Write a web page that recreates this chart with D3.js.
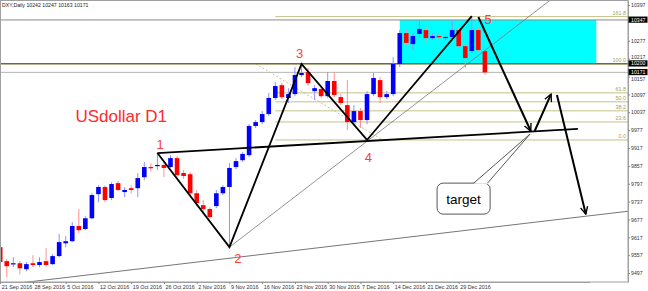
<!DOCTYPE html>
<html><head><meta charset="utf-8">
<script src="https://cdn.jsdelivr.net/npm/d3@7"></script>
<style>html,body{margin:0;padding:0;background:#fff;}svg{display:block;font-family:"Liberation Sans",Arial,sans-serif;}</style>
</head><body>
<svg id="c" width="648" height="291"></svg>
<script>
// ---------- DATA ----------
const headerText = "DXY,Daily  10242 10247 10163 10171";
const openP  = [9584,9537,9527,9530,9510,9530,9524,9537,9527,9554, 9597,9604,9655,9645,9681,9762,9786,9749,9799,9769,
                9782,9782,9819,9853,9856,9860,9853,9883,9833,9829, 9765,9725,9712,9722,9765,9786,9853,9876,9893,9991,
                10004,10031,10085,10128,10085,10098,10162,10172,10108,10115, 10091,10142,10088,10061,10004,10041,10011,10098,10145,10088,
                10098,10199,10303,10266,10300,10313,10286,10293,10286,10290, 10313,10259,10243,10313,10242];
const highP  = [9621,9544,9550,9537,9534,9557,9550,9581,9561,9628, 9621,9668,9712,9688,9765,9792,9792,9802,9806,9786,
                9792,9833,9870,9866,9900,9866,9893,9890,9843,9836, 9776,9742,9718,9776,9792,9866,9883,9903,9997,10011,
                10041,10102,10139,10135,10118,10189,10199,10186,10128,10125, 10172,10172,10098,10145,10061,10051,10108,10169,10155,10108,
                10222,10313,10313,10303,10347,10327,10303,10300,10296,10347, 10323,10266,10357,10320,10247];
const lowP   = [9527,9483,9517,9493,9503,9517,9517,9520,9524,9550, 9584,9601,9631,9641,9678,9735,9735,9742,9772,9752,
                9765,9752,9809,9839,9843,9819,9850,9819,9813,9759, 9722,9702,9681,9715,9759,9584,9846,9870,9886,9984,
                9997,10024,10078,10081,10068,10091,10155,10125,10078,10085, 10085,10088,10061,9977,9994,9984,9997,10091,10068,10081,
                10091,10189,10259,10246,10286,10270,10280,10283,10280,10283, 10253,10186,10236,10239,10163];
const closeP = [9534,9520,9530,9513,9527,9524,9534,9524,9554,9601, 9604,9655,9641,9681,9759,9786,9742,9796,9776,9776,
                9776,9816,9853,9850,9860,9850,9883,9826,9823,9765, 9732,9712,9685,9765,9786,9850,9873,9897,9991,10004,
                10031,10085,10125,10088,10098,10162,10169,10135,10118,10091, 10142,10095,10068,10004,10041,10011,10098,10152,10088,10098,
                10199,10303,10270,10293,10317,10286,10293,10290,10290,10313, 10259,10219,10313,10246,10171];

const dateIdx    = [0,5,10,15,20,25,30,35,40,45,50,55,60,65,70];
const dateLabels = ["21 Sep 2016","28 Sep 2016","5 Oct 2016","12 Oct 2016","19 Oct 2016","26 Oct 2016","2 Nov 2016",
                    "9 Nov 2016","16 Nov 2016","23 Nov 2016","30 Nov 2016","7 Dec 2016","14 Dec 2016","21 Dec 2016","29 Dec 2016"];
const priceTicks = [10397,10277,10217,10157,10097,10037,9977,9917,9857,9797,9737,9677,9617,9557,9497];
const markedPrices = [10347,10200,10171];

const fibZero = 9944, fibHundred = 10200;
const fibLevels = [0, 23.6, 38.2, 50, 61.8, 100, 161.8];
const fibLabels = ["0.0","23.6","38.2","50.0","61.8","100.0","161.8"];
const fibAnchorIdx = [39, 58.4];

const boxIdx = [61, 91];
const boxPrice = [10347, 10200];

const waveIdx   = [24, 35, 46, 56, 72];
const wavePrice = [9900, 9584, 10199, 9944, 10360];
const waveNames = ["1","2","3","4","5"];
const waveLabelIdx   = [24.4, 36.3, 45.7, 56.2, 74.5];
const waveLabelPrice = [9930, 9547, 10236, 9886, 10350];

const trendIdx = [24, 88.2], trendPrice = [9900, 9981];
const thinIdx  = [35, 84],   thinPrice  = [9584, 10414];
const baseIdx  = [0, 96],    basePrice  = [9456, 9705];
const arrowsIdx   = [[73, 81], [81.6, 84.1], [85, 89.4]];
const arrowsPrice = [[10357, 9974], [9974, 10098], [10095, 9695]];

const titleText = "USdollar D1";
const titleIdx = 18.5, titlePrice = 10025;
const targetText = "target";
const targetIdx = [66.7, 74.8], targetPrice = [9799, 9695];
const targetTailIdx = [72.3, 74.4, 80.9], targetTailPrice = [9799, 9799, 9964];

// ---------- SCALES ----------
const plotR = 628, plotB = 282;
const x = d3.scaleLinear().domain([0, 90]).range([0.2, 0.2 + 6.55 * 90]);
const y = d3.scaleLinear().domain([9467, 10414]).range([plotB, 0]);

const svg = d3.select("#c");
const defs = svg.append("defs");
defs.append("clipPath").attr("id", "plot").append("rect")
  .attr("x", 0).attr("y", 0).attr("width", plotR).attr("height", plotB);
defs.append("marker").attr("id", "arr").attr("viewBox", "0 0 10 10")
  .attr("refX", 9).attr("refY", 5).attr("markerWidth", 4.5).attr("markerHeight", 4.5)
  .attr("orient", "auto").attr("markerUnits", "strokeWidth")
  .append("path").attr("d", "M1,1 L9,5 L1,9").attr("fill", "none")
  .attr("stroke", "#000").attr("stroke-width", 1.5);

svg.append("rect").attr("width", 648).attr("height", 291).attr("fill", "#fff");
const g = svg.append("g").attr("clip-path", "url(#plot)");

// cyan box
g.append("rect")
  .attr("x", x(boxIdx[0])).attr("y", y(boxPrice[0]))
  .attr("width", x(boxIdx[1]) - x(boxIdx[0])).attr("height", y(boxPrice[1]) - y(boxPrice[0]))
  .attr("fill", "#00ffff");

// fib levels
const fibPrice = l => fibZero + (fibHundred - fibZero) * l / 100;
g.selectAll("line.fib").data(fibLevels).join("line").attr("class", "fib")
  .attr("x1", x(42)).attr("x2", plotR)
  .attr("y1", d => y(fibPrice(d))).attr("y2", d => y(fibPrice(d)))
  .attr("stroke", "#c4c088").attr("stroke-width", 1);
g.append("line")
  .attr("x1", x(fibAnchorIdx[0])).attr("y1", y(fibHundred))
  .attr("x2", x(fibAnchorIdx[1])).attr("y2", y(fibZero))
  .attr("stroke", "#b8b478").attr("stroke-width", 0.8).attr("stroke-dasharray", "2,2");
g.append("line").attr("x1", x(fibAnchorIdx[0])).attr("x2", x(42))
  .attr("y1", y(fibHundred)).attr("y2", y(fibHundred)).attr("stroke", "#c4c088");
svg.selectAll("text.fibl").data(fibLevels).join("text").attr("class", "fibl")
  .attr("x", plotR - 2).attr("y", d => y(fibPrice(d)) - 1.5)
  .attr("text-anchor", "end").attr("font-size", 5.4).attr("fill", "#aaa24a")
  .text((d, i) => fibLabels[i]);

// horizontal price lines
g.append("line").attr("x1", 0).attr("x2", plotR).attr("y1", y(markedPrices[0])).attr("y2", y(markedPrices[0]))
  .attr("stroke", "#8a8a8a").attr("stroke-width", 1);
g.append("line").attr("x1", 0).attr("x2", plotR).attr("y1", y(markedPrices[1])).attr("y2", y(markedPrices[1]))
  .attr("stroke", "#6f6f2c").attr("stroke-width", 1.3);
g.append("line").attr("x1", 0).attr("x2", plotR).attr("y1", y(markedPrices[2])).attr("y2", y(markedPrices[2]))
  .attr("stroke", "#b4b4b4").attr("stroke-width", 1);

// candles
const idx = d3.range(openP.length);
const up = i => closeP[i] >= openP[i];
g.selectAll("line.wick").data(idx).join("line").attr("class", "wick")
  .attr("x1", i => x(i)).attr("x2", i => x(i))
  .attr("y1", i => y(highP[i])).attr("y2", i => y(lowP[i]))
  .attr("stroke", i => up(i) ? "#9090ff" : "#ff9090").attr("stroke-width", 1);
g.selectAll("rect.body").data(idx).join("rect").attr("class", "body")
  .attr("x", i => x(i) - 2.3).attr("width", 4.6)
  .attr("y", i => Math.min(y(openP[i]), y(closeP[i])))
  .attr("height", i => Math.max(1.2, Math.abs(y(openP[i]) - y(closeP[i]))))
  .attr("fill", i => up(i) ? "#0000ff" : "#ff0000");

// thin lines
g.append("line").attr("x1", x(thinIdx[0])).attr("y1", y(thinPrice[0]))
  .attr("x2", x(thinIdx[1])).attr("y2", y(thinPrice[1]))
  .attr("stroke", "#777").attr("stroke-width", 0.8);
g.append("line").attr("x1", x(baseIdx[0])).attr("y1", y(basePrice[0]))
  .attr("x2", x(baseIdx[1])).attr("y2", y(basePrice[1]))
  .attr("stroke", "#666").attr("stroke-width", 0.9);

// wave polyline
g.append("path")
  .attr("d", d3.line()(waveIdx.map((d, i) => [x(d), y(wavePrice[i])])))
  .attr("fill", "none").attr("stroke", "#000").attr("stroke-width", 1.8).attr("stroke-linejoin", "miter");
// trendline
g.append("line").attr("x1", x(trendIdx[0])).attr("y1", y(trendPrice[0]))
  .attr("x2", x(trendIdx[1])).attr("y2", y(trendPrice[1]))
  .attr("stroke", "#000").attr("stroke-width", 1.8);
// arrows
g.selectAll("line.arrow").data(arrowsIdx).join("line").attr("class", "arrow")
  .attr("x1", d => x(d[0])).attr("x2", d => x(d[1]))
  .attr("y1", (d, i) => y(arrowsPrice[i][0])).attr("y2", (d, i) => y(arrowsPrice[i][1]))
  .attr("stroke", "#000").attr("stroke-width", 2).attr("marker-end", "url(#arr)");

// target callout
const tx0 = x(targetIdx[0]), tx1 = x(targetIdx[1]), ty0 = y(targetPrice[0]), ty1 = y(targetPrice[1]);
svg.append("rect").attr("x", tx0).attr("y", ty0).attr("width", tx1 - tx0).attr("height", ty1 - ty0)
  .attr("rx", 6).attr("fill", "#fff").attr("stroke", "#444").attr("stroke-width", 0.9);
const tail = targetTailIdx.map((d, i) => [x(d), y(targetTailPrice[i])]);
svg.append("path").attr("d", `M${tail[0][0]},${tail[0][1] + 0.6}L${tail[2][0]},${tail[2][1]}L${tail[1][0]},${tail[1][1] + 0.6}Z`)
  .attr("fill", "#fff").attr("stroke", "none");
svg.append("path").attr("d", `M${tail[0][0]},${tail[0][1]}L${tail[2][0]},${tail[2][1]}L${tail[1][0]},${tail[1][1]}`)
  .attr("fill", "none").attr("stroke", "#444").attr("stroke-width", 0.9);
svg.append("text").attr("x", (tx0 + tx1) / 2).attr("y", (ty0 + ty1) / 2 + 5)
  .attr("text-anchor", "middle").attr("font-size", 13.5).attr("fill", "#000").text(targetText);

// wave labels
svg.selectAll("text.wave").data(waveNames).join("text").attr("class", "wave")
  .attr("x", (d, i) => x(waveLabelIdx[i])).attr("y", (d, i) => y(waveLabelPrice[i]) + 4.5)
  .attr("text-anchor", "middle").attr("font-size", 13).attr("fill", "#ff3b3b").text(d => d);
svg.append("text").attr("x", x(titleIdx) - 46).attr("y", y(titlePrice) + 6)
  .attr("font-size", 17).attr("fill", "#ff2a2a").text(titleText);

// frame
svg.append("rect").attr("x", 0.5).attr("y", 0.5).attr("width", plotR - 0.5).attr("height", plotB - 0.5)
  .attr("fill", "none").attr("stroke", "#a0a0a0").attr("stroke-width", 1);

// header
svg.append("text").attr("x", 2).attr("y", 7).attr("font-size", 5.2).attr("fill", "#222").text(headerText);

// right axis
const ay = svg.append("g").attr("transform", `translate(${plotR},0)`)
  .call(d3.axisRight(y).tickValues(priceTicks).tickSize(2).tickSizeOuter(0).tickFormat(d3.format("d")));
ay.select(".domain").attr("stroke", "#a0a0a0");
ay.selectAll(".tick line").attr("stroke", "#888");
ay.selectAll(".tick text").attr("font-size", 5.2).attr("font-family", "Liberation Sans, Arial, sans-serif")
  .attr("fill", "#333").attr("x", 3)
  .attr("dy", d => d === 10157 ? "0.75em" : (d === 10217 ? "-0.05em" : "0.32em"));

// marked price boxes
const mk = svg.selectAll("g.mk").data(markedPrices).join("g").attr("class", "mk")
  .attr("transform", d => `translate(${plotR},${y(d)})`);
mk.append("rect").attr("x", 0.5).attr("y", -3.4).attr("width", 19).attr("height", 6.2).attr("fill", "#000");
mk.append("text").attr("x", 3).attr("y", 1.7).attr("font-size", 5.2).attr("fill", "#fff").text(d => d);

// bottom axis
const ax = svg.append("g").attr("transform", `translate(0,${plotB})`)
  .call(d3.axisBottom(x).tickValues(dateIdx).tickSize(2).tickSizeOuter(0).tickFormat((d, i) => dateLabels[i]));
ax.select(".domain").attr("stroke", "#a0a0a0");
ax.selectAll(".tick line").attr("stroke", "#888");
ax.selectAll(".tick text").attr("font-size", 5.4).attr("font-family", "Liberation Sans, Arial, sans-serif")
  .attr("fill", "#333").attr("text-anchor", "start").attr("x", 1).attr("y", 3);
</script>
</body></html>
